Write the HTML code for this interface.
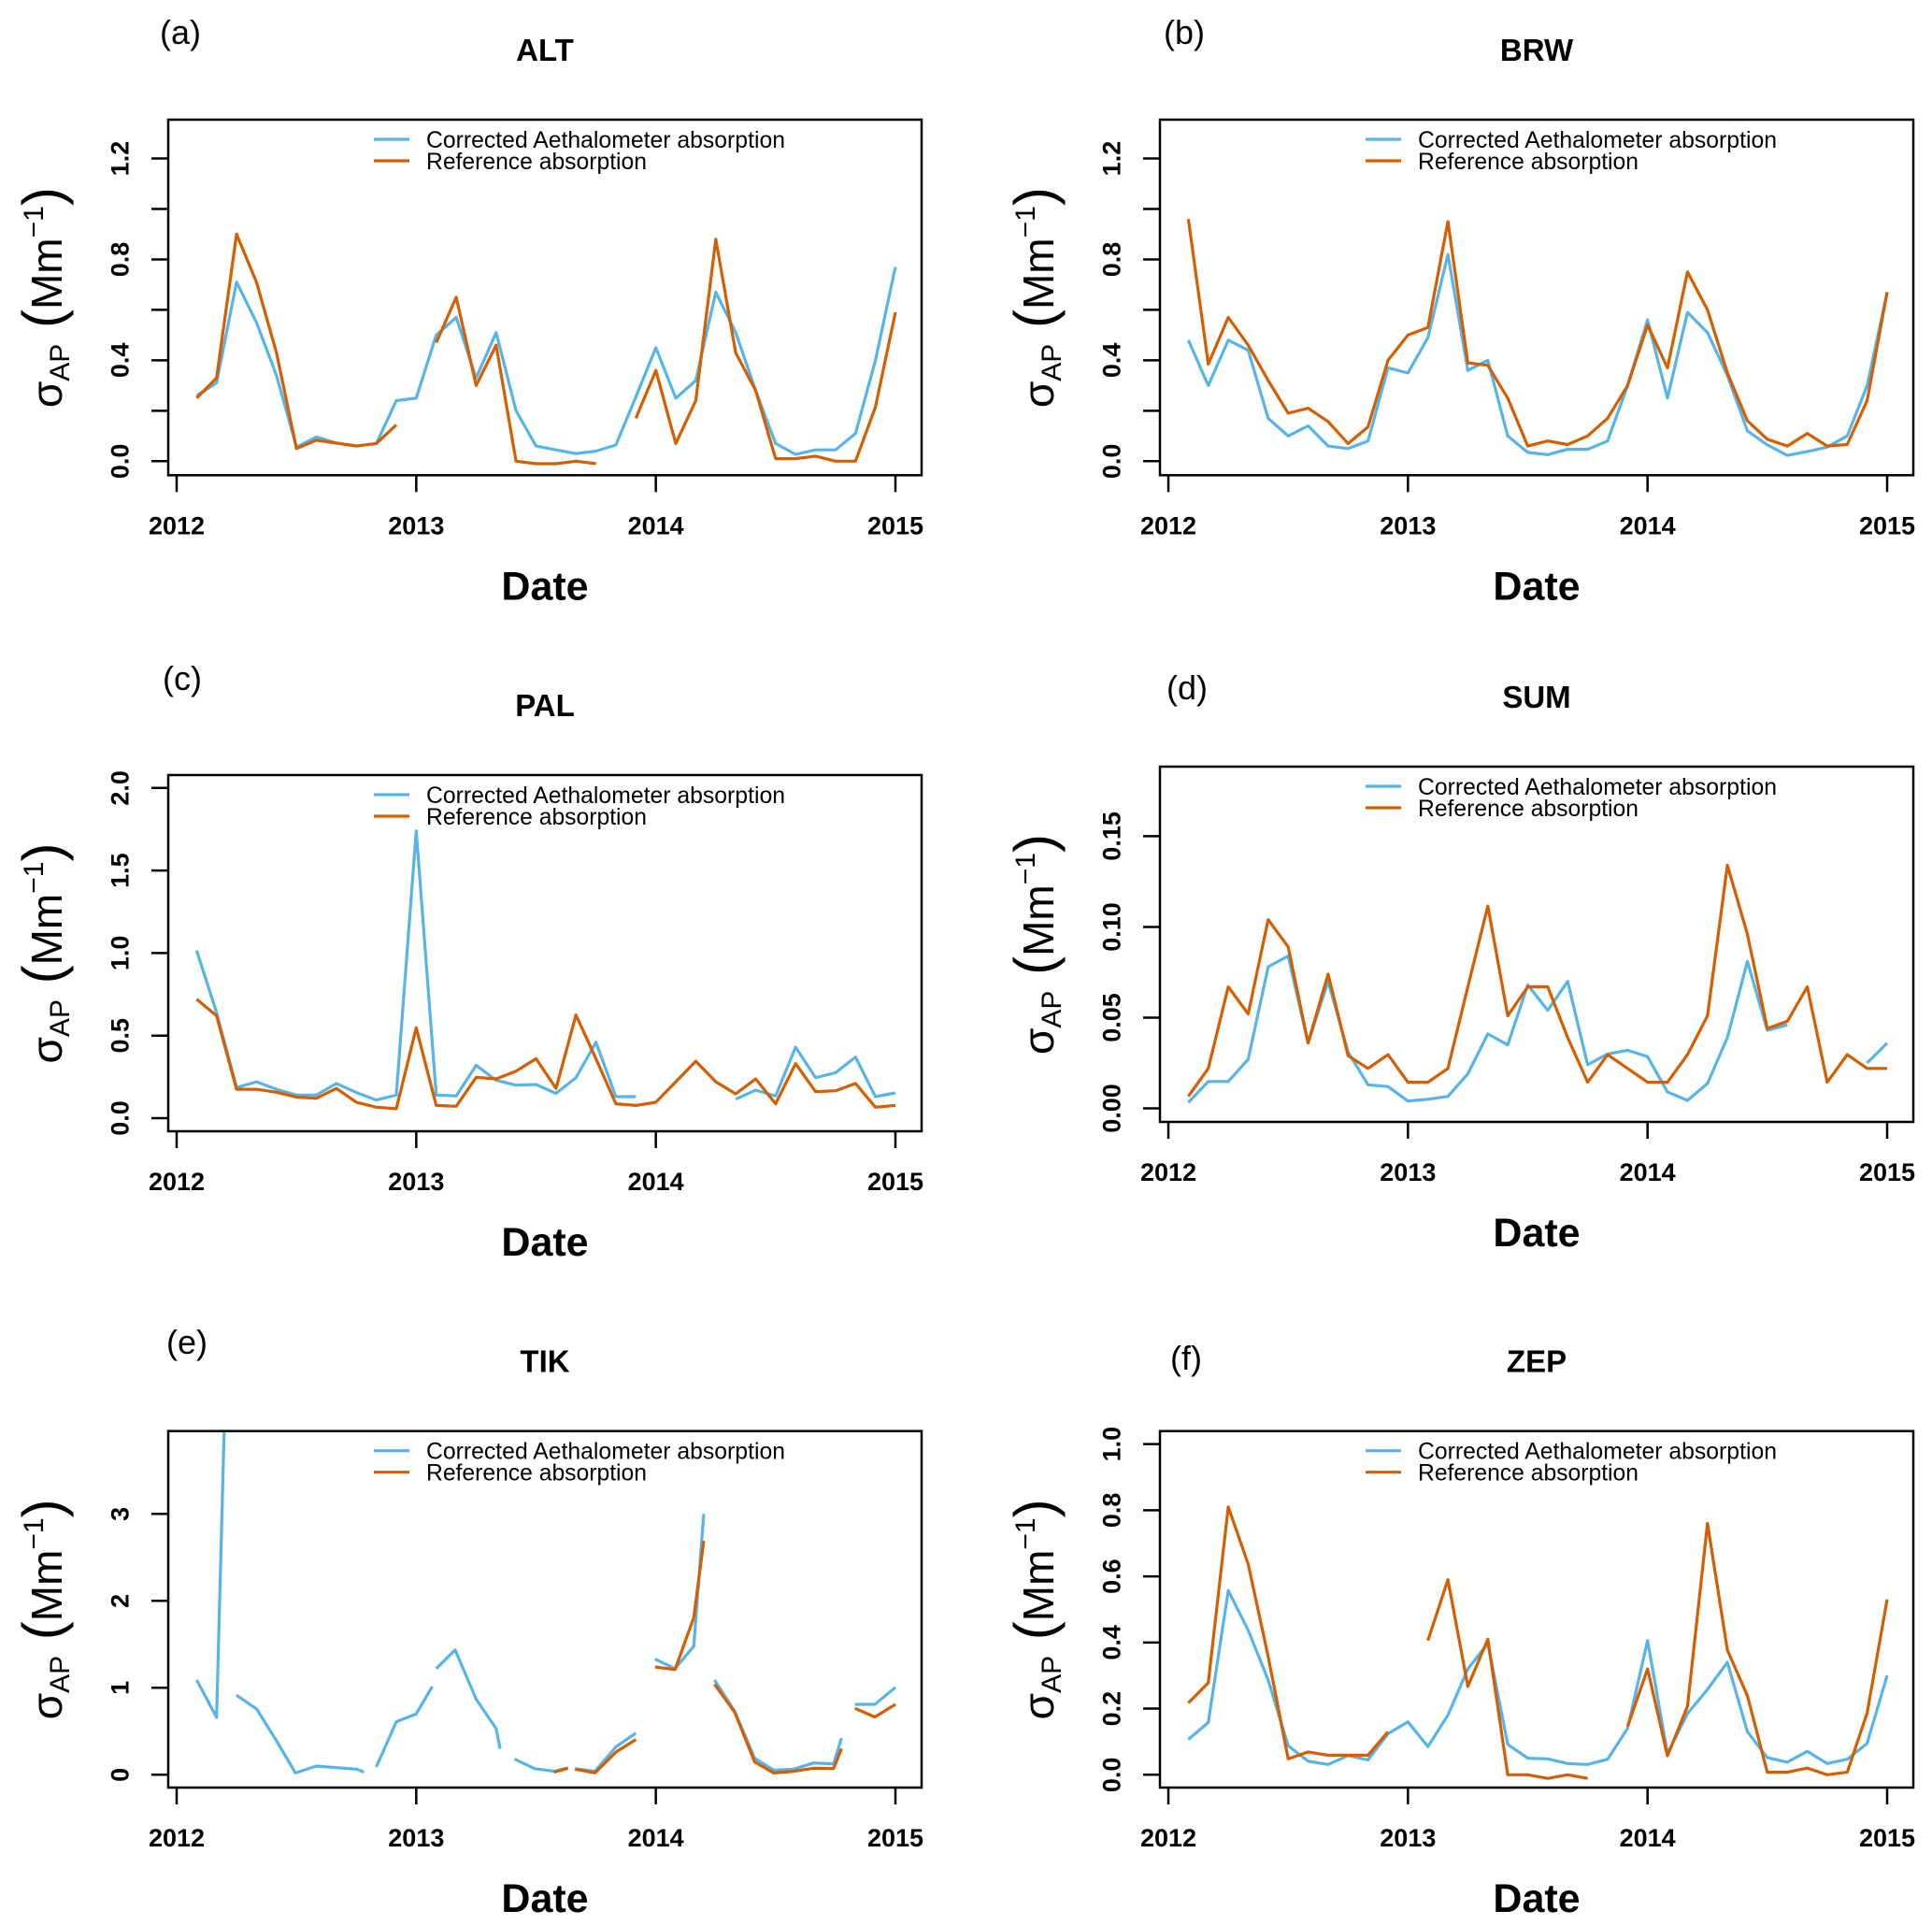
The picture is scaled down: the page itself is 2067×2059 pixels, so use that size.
<!DOCTYPE html>
<html><head><meta charset="utf-8"><style>
html,body{margin:0;padding:0;background:#fff;}
svg{display:block;}
text{font-family:"Liberation Sans",Arial,sans-serif;fill:#000;}
</style></head><body>
<svg id="fig" xmlns="http://www.w3.org/2000/svg" width="2067" height="2059" viewBox="0 0 2067 2059"></svg>
<script>
// ---------- data ----------
const months = [1,2,3,4,5,6,7,8,9,10,11,12,13,14,15,16,17,18,19,20,21,22,23,24,25,26,27,28,29,30,31,32,33,34,35,36];
const yearTicks = [2012,2013,2014,2015];

const altBlue = [0.26,0.31,0.71,0.55,0.34,0.056,0.096,0.072,0.06,0.07,0.24,0.25,0.50,0.57,0.33,0.51,0.20,0.06,0.045,0.03,0.04,0.064,0.255,0.45,0.25,0.32,0.67,0.51,0.28,0.07,0.027,0.045,0.045,0.11,0.40,0.77];
const altRef = [0.25,0.33,0.90,0.71,0.43,0.05,0.083,0.072,0.06,0.07,0.144,null,0.47,0.65,0.30,0.46,0.0,-0.01,-0.01,0.0,-0.01,null,0.17,0.36,0.07,0.24,0.88,0.43,0.28,0.01,0.01,0.02,0,0,0.215,0.59];

const brwBlue = [0.48,0.30,0.48,0.44,0.17,0.10,0.14,0.06,0.05,0.08,0.37,0.35,0.49,0.82,0.36,0.40,0.10,0.035,0.026,0.047,0.047,0.08,0.30,0.56,0.25,0.59,0.51,0.34,0.12,0.065,0.023,0.038,0.056,0.10,0.30,0.67];
const brwRef = [0.96,0.385,0.57,0.46,0.32,0.19,0.21,0.157,0.07,0.136,0.40,0.50,0.53,0.95,0.39,0.38,0.25,0.06,0.08,0.066,0.10,0.17,0.30,0.54,0.37,0.75,0.60,0.35,0.16,0.087,0.06,0.11,0.06,0.066,0.24,0.67];

const palBlue = [1.015,0.64,0.185,0.22,0.175,0.14,0.14,0.21,0.155,0.11,0.14,1.74,0.14,0.135,0.32,0.23,0.20,0.204,0.15,0.245,0.46,0.13,0.13,null,null,null,null,0.115,0.17,0.134,0.43,0.245,0.275,0.37,0.13,0.153];
const palRef = [0.72,0.62,0.175,0.175,0.157,0.128,0.12,0.18,0.096,0.066,0.057,0.547,0.077,0.072,0.247,0.238,0.285,0.36,0.18,0.625,0.36,0.087,0.077,0.096,0.22,0.345,0.22,0.147,0.238,0.087,0.33,0.16,0.166,0.21,0.066,0.077];

const sumBlue = [0.0033,0.0148,0.0148,0.027,0.078,0.084,0.036,0.070,0.031,0.013,0.012,0.004,0.005,0.0066,0.019,0.041,0.035,0.068,0.054,0.070,0.024,0.030,0.032,0.0285,0.009,0.0044,0.0137,0.039,0.081,0.043,0.046,null,null,null,0.025,0.036];
const sumRef = [0.0066,0.022,0.067,0.052,0.104,0.089,0.036,0.074,0.029,0.022,0.0296,0.0144,0.0144,0.022,0.067,0.1115,0.051,0.067,0.067,0.039,0.0144,0.0296,0.022,0.0144,0.0144,0.0296,0.051,0.134,0.096,0.044,0.048,0.067,0.0144,0.0296,0.022,0.022];

const tikBlueMonths = [1.0,2.0,2.5,null,2.99,4.01,5.0,5.95,7.0,9.0,9.38,null,10.0,11.0,12.0,12.8,null,13.0,13.95,15.0,16.0,16.2,null,16.93,17.94,18.94,19.6,null,19.95,20.95,22.0,23.0,null,23.96,24.96,25.9,26.4,null,26.94,27.95,28.95,29.9,30.9,31.9,32.9,33.3,null,33.97,34.97,36.0];
const tikBlue = [1.09,0.66,5.0,null,0.915,0.755,0.39,0.02,0.10,0.065,0.03,null,0.09,0.61,0.70,1.015,null,1.22,1.435,0.87,0.53,0.30,null,0.18,0.07,0.04,0.08,null,0.07,0.04,0.32,0.48,null,1.33,1.22,1.48,3.0,null,1.09,0.73,0.19,0.054,0.065,0.136,0.125,0.42,null,0.81,0.81,1.005];
const tikRefMonths = [18.9,19.6,null,19.95,20.95,22.0,23.0,null,23.96,24.96,25.9,26.4,null,26.94,27.95,28.95,29.9,30.9,31.9,32.9,33.3,null,33.97,34.97,36.0];
const tikRef = [0.03,0.075,null,0.065,0.02,0.26,0.405,null,1.24,1.21,1.81,2.69,null,1.04,0.72,0.147,0.02,0.04,0.075,0.072,0.30,null,0.765,0.665,0.81];

const zepBlue = [0.107,0.158,0.557,0.437,0.286,0.088,0.041,0.031,0.058,0.045,0.124,0.160,0.085,0.18,0.32,0.397,0.092,0.05,0.048,0.034,0.031,0.047,0.14,0.406,0.064,0.185,0.258,0.34,0.13,0.052,0.038,0.071,0.034,0.047,0.095,0.30];
const zepRef = [0.217,0.278,0.81,0.637,0.357,0.048,0.069,0.059,0.059,0.059,0.13,null,0.406,0.59,0.267,0.41,0.0,0.0,-0.011,0,-0.011,null,0.146,0.32,0.057,0.207,0.76,0.377,0.239,0.0075,0.0075,0.02,0,0.0075,0.187,0.53];

const ticksAB = [0,0.2,0.4,0.6,0.8,1.0,1.2];
const labelsAB = ["0.0","","0.4","","0.8","","1.2"];
const ticksC = [0,0.5,1.0,1.5,2.0];
const labelsC = ["0.0","0.5","1.0","1.5","2.0"];
const ticksD = [0,0.05,0.10,0.15];
const labelsD = ["0.00","0.05","0.10","0.15"];
const ticksE = [0,1,2,3];
const labelsE = ["0","1","2","3"];
const ticksF = [0,0.2,0.4,0.6,0.8,1.0];
const labelsF = ["0.0","0.2","0.4","0.6","0.8","1.0"];

// ---------- layout ----------
const NS = "http://www.w3.org/2000/svg";
const svg = document.getElementById('fig');
const BLUE = "#56B4E9", ORANGE = "#D55E00";

const panels = [
 {id:'a', title:'ALT', L:180, R:986, T:128, B:508.3, x0:189, x1:958, y0px:493.3, pxPerUnit:269.8, ticks:ticksAB, labels:labelsAB,
  bx:months, bv:altBlue, ox:months, ov:altRef, lab:[171,47]},
 {id:'b', title:'BRW', L:1241, R:2047, T:128, B:508.3, x0:1250, x1:2019, y0px:493.3, pxPerUnit:269.8, ticks:ticksAB, labels:labelsAB,
  bx:months, bv:brwBlue, ox:months, ov:brwRef, lab:[1245,47]},
 {id:'c', title:'PAL', L:180, R:986, T:829, B:1210, x0:189, x1:958, y0px:1196, pxPerUnit:176.6, ticks:ticksC, labels:labelsC,
  bx:months, bv:palBlue, ox:months, ov:palRef, lab:[174,738]},
 {id:'d', title:'SUM', L:1241, R:2047, T:820, B:1200, x0:1250, x1:2019, y0px:1185.5, pxPerUnit:1940.6, ticks:ticksD, labels:labelsD,
  bx:months, bv:sumBlue, ox:months, ov:sumRef, lab:[1248,748]},
 {id:'e', title:'TIK', L:180, R:986, T:1530.7, B:1912, x0:189, x1:958, y0px:1898.3, pxPerUnit:93, ticks:ticksE, labels:labelsE,
  bx:tikBlueMonths, bv:tikBlue, ox:tikRefMonths, ov:tikRef, lab:[178,1448]},
 {id:'f', title:'ZEP', L:1241, R:2047, T:1530.7, B:1912, x0:1250, x1:2019, y0px:1898.3, pxPerUnit:353.7, ticks:ticksF, labels:labelsF,
  bx:months, bv:zepBlue, ox:months, ov:zepRef, lab:[1252,1465]}
];

function mk(tag, attrs, parent){
  const e = document.createElementNS(NS, tag);
  for (const k in attrs) e.setAttribute(k, attrs[k]);
  (parent||svg).appendChild(e);
  return e;
}

function linePaths(p, xs, vs){
  const xScale = m => p.x0 + (m/12)*(p.x1-p.x0)/3;
  const yScale = v => p.y0px - v*p.pxPerUnit;
  const segs = []; let cur = [];
  for (let i=0;i<vs.length;i++){
    if (vs[i]===null || xs[i]===null){ if(cur.length) segs.push(cur); cur=[]; continue; }
    cur.push([xScale(xs[i]), yScale(vs[i])]);
  }
  if(cur.length) segs.push(cur);
  return segs.map(s => 'M'+s.map(q=>q[0].toFixed(1)+','+q[1].toFixed(1)).join('L')).join(' ');
}

panels.forEach(p => {
  const g = mk('g', {});
  
  

  const cp = mk('clipPath', {id:'clip-'+p.id}, g);
  mk('rect', {x:p.L, y:p.T, width:p.R-p.L, height:p.B-p.T}, cp);

  const pl = mk('text', {x:p.lab[0], y:p.lab[1], 'font-size':36}, g);
  pl.textContent = '(' + p.id + ')';
  
  

  const tt = mk('text', {x:(p.L+p.R)/2, y:p.T-63, 'font-size':33, 'font-weight':'bold', 'text-anchor':'middle'}, g);
  tt.textContent = p.title;
  
  

  const bl = mk('path', {d:linePaths(p, p.bx, p.bv), fill:'none', stroke:BLUE, 'stroke-width':3.2, 'stroke-linejoin':'round', 'clip-path':'url(#clip-'+p.id+')'}, g);
  
  
  const ol = mk('path', {d:linePaths(p, p.ox, p.ov), fill:'none', stroke:ORANGE, 'stroke-width':3.2, 'stroke-linejoin':'round', 'clip-path':'url(#clip-'+p.id+')'}, g);
  
  

  const bx = mk('rect', {x:p.L, y:p.T, width:p.R-p.L, height:p.B-p.T, fill:'none', stroke:'#000', 'stroke-width':2.5}, g);
  
  

  const xa = mk('g', {}, g);
  
  
  yearTicks.forEach(yv => {
    const x = p.x0 + (yv-2012)*(p.x1-p.x0)/3;
    mk('line', {x1:x, x2:x, y1:p.B, y2:p.B+18, stroke:'#000', 'stroke-width':2.5}, xa);
    const t = mk('text', {x:x, y:p.B+63, 'font-size':27, 'font-weight':'bold', 'text-anchor':'middle'}, xa);
    t.textContent = String(yv);
    
    
  });
  const xt = mk('text', {x:(p.L+p.R)/2, y:p.B+133, 'font-size':43, 'font-weight':'bold', 'text-anchor':'middle'}, g);
  xt.textContent = 'Date';
  
  

  const ya = mk('g', {}, g);
  
  
  p.ticks.forEach((v,i) => {
    const y = p.y0px - v*p.pxPerUnit;
    mk('line', {x1:p.L-18, x2:p.L, y1:y, y2:y, stroke:'#000', 'stroke-width':2.5}, ya);
    if (p.labels[i]) {
      const bxp = p.L-42.7;
      const t = mk('text', {x:bxp, y:y, 'font-size':27, 'font-weight':'bold', 'text-anchor':'middle', transform:'rotate(-90 '+bxp+' '+y+')'}, ya);
      t.textContent = p.labels[i];
      
      
    }
  });
  const cy = (p.T+p.B)/2, lx = p.L-114;
  const yt = mk('text', {x:lx, y:cy, 'font-size':46, 'text-anchor':'middle', transform:'rotate(-90 '+lx+' '+cy+')'}, g);
  yt.innerHTML = 'σ<tspan font-size="30" dy="8">AP</tspan><tspan dy="-8" font-size="60"> (</tspan><tspan>Mm</tspan><tspan font-size="30" dy="-20">−1</tspan><tspan dy="20" font-size="60">)</tspan>';
  
  

  const lg = mk('g', {}, g);
  
  
  const lx0 = p.L + 220;
  const e1 = mk('g', {}, lg);
  
  
  mk('line', {x1:lx0, x2:lx0+38, y1:p.T+21, y2:p.T+21, stroke:BLUE, 'stroke-width':3.2}, e1);
  const t1 = mk('text', {x:lx0+56, y:p.T+30, 'font-size':25, textLength:384, lengthAdjust:'spacingAndGlyphs'}, e1);
  t1.textContent = 'Corrected Aethalometer absorption';
  const e2 = mk('g', {}, lg);
  
  
  mk('line', {x1:lx0, x2:lx0+38, y1:p.T+44, y2:p.T+44, stroke:ORANGE, 'stroke-width':3.2}, e2);
  const t2 = mk('text', {x:lx0+56, y:p.T+53, 'font-size':25, textLength:236, lengthAdjust:'spacingAndGlyphs'}, e2);
  t2.textContent = 'Reference absorption';
});
</script>
</body></html>
